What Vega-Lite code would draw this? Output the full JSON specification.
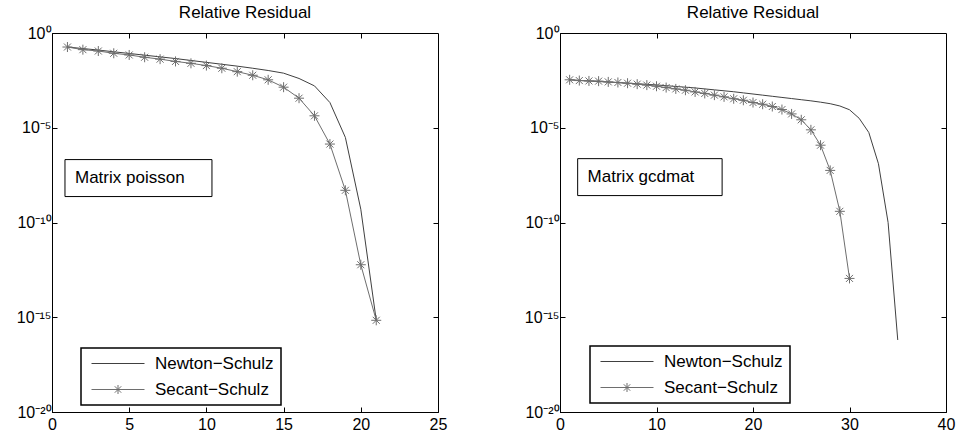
{
  "$schema": "https://vega.github.io/schema/vega-lite/v6.json",
  "background": "white",
  "padding": {"left": 15, "top": 3, "right": 5, "bottom": 0},
  "bounds": "flush",
  "spacing": 122,
  "resolve": {"scale": {"color": "independent"}, "legend": {"color": "independent"}},
  "config": {
    "font": "Liberation Sans",
    "view": {"stroke": "black", "strokeWidth": 1},
    "axis": {"grid": false, "domainColor": "black", "tickColor": "black", "labelColor": "black", "labelFont": "Liberation Sans", "labelFontSize": 16, "tickSize": -5, "title": null, "labelFlush": false},
    "title": {"font": "Liberation Sans", "fontSize": 17, "fontWeight": "normal", "color": "black", "offset": 3},
    "legend": {"labelFont": "Liberation Sans", "labelFontSize": 17, "labelColor": "black", "strokeColor": "black", "fillColor": "white", "padding": 7, "symbolSize": 100, "labelOffset": 50, "rowPadding": 8, "symbolStrokeWidth": 1, "symbolFillColor": "transparent"}
  },
  "datasets": {
    "poisson": [
      {"iter": 1, "residual": 0.182, "method": "Newton−Schulz"},
      {"iter": 2, "residual": 0.151, "method": "Newton−Schulz"},
      {"iter": 3, "residual": 0.126, "method": "Newton−Schulz"},
      {"iter": 4, "residual": 0.102, "method": "Newton−Schulz"},
      {"iter": 5, "residual": 0.0832, "method": "Newton−Schulz"},
      {"iter": 6, "residual": 0.0676, "method": "Newton−Schulz"},
      {"iter": 7, "residual": 0.055, "method": "Newton−Schulz"},
      {"iter": 8, "residual": 0.0447, "method": "Newton−Schulz"},
      {"iter": 9, "residual": 0.0355, "method": "Newton−Schulz"},
      {"iter": 10, "residual": 0.0282, "method": "Newton−Schulz"},
      {"iter": 11, "residual": 0.0224, "method": "Newton−Schulz"},
      {"iter": 12, "residual": 0.0178, "method": "Newton−Schulz"},
      {"iter": 13, "residual": 0.0138, "method": "Newton−Schulz"},
      {"iter": 14, "residual": 0.0105, "method": "Newton−Schulz"},
      {"iter": 15, "residual": 0.00759, "method": "Newton−Schulz"},
      {"iter": 16, "residual": 0.00398, "method": "Newton−Schulz"},
      {"iter": 17, "residual": 0.00162, "method": "Newton−Schulz"},
      {"iter": 18, "residual": 2.14e-4, "method": "Newton−Schulz"},
      {"iter": 19, "residual": 3.09e-6, "method": "Newton−Schulz"},
      {"iter": 20, "residual": 5.0e-10, "method": "Newton−Schulz"},
      {"iter": 21, "residual": 6.9e-16, "method": "Newton−Schulz"},
      {"iter": 1, "residual": 0.182, "method": "Secant−Schulz"},
      {"iter": 2, "residual": 0.132, "method": "Secant−Schulz"},
      {"iter": 3, "residual": 0.112, "method": "Secant−Schulz"},
      {"iter": 4, "residual": 0.0851, "method": "Secant−Schulz"},
      {"iter": 5, "residual": 0.0692, "method": "Secant−Schulz"},
      {"iter": 6, "residual": 0.0525, "method": "Secant−Schulz"},
      {"iter": 7, "residual": 0.0417, "method": "Secant−Schulz"},
      {"iter": 8, "residual": 0.0316, "method": "Secant−Schulz"},
      {"iter": 9, "residual": 0.0251, "method": "Secant−Schulz"},
      {"iter": 10, "residual": 0.0191, "method": "Secant−Schulz"},
      {"iter": 11, "residual": 0.0138, "method": "Secant−Schulz"},
      {"iter": 12, "residual": 0.00912, "method": "Secant−Schulz"},
      {"iter": 13, "residual": 0.00589, "method": "Secant−Schulz"},
      {"iter": 14, "residual": 0.00339, "method": "Secant−Schulz"},
      {"iter": 15, "residual": 0.00138, "method": "Secant−Schulz"},
      {"iter": 16, "residual": 3.63e-4, "method": "Secant−Schulz"},
      {"iter": 17, "residual": 4.27e-5, "method": "Secant−Schulz"},
      {"iter": 18, "residual": 1.38e-6, "method": "Secant−Schulz"},
      {"iter": 19, "residual": 5.0e-9, "method": "Secant−Schulz"},
      {"iter": 20, "residual": 5.9e-13, "method": "Secant−Schulz"},
      {"iter": 21, "residual": 6.9e-16, "method": "Secant−Schulz"}
    ],
    "gcdmat": [
      {"iter": 1, "residual": 0.00339, "method": "Newton−Schulz"},
      {"iter": 2, "residual": 0.00316, "method": "Newton−Schulz"},
      {"iter": 3, "residual": 0.00295, "method": "Newton−Schulz"},
      {"iter": 4, "residual": 0.00275, "method": "Newton−Schulz"},
      {"iter": 5, "residual": 0.00257, "method": "Newton−Schulz"},
      {"iter": 6, "residual": 0.0024, "method": "Newton−Schulz"},
      {"iter": 7, "residual": 0.00224, "method": "Newton−Schulz"},
      {"iter": 8, "residual": 0.00209, "method": "Newton−Schulz"},
      {"iter": 9, "residual": 0.00195, "method": "Newton−Schulz"},
      {"iter": 10, "residual": 0.00182, "method": "Newton−Schulz"},
      {"iter": 11, "residual": 0.00166, "method": "Newton−Schulz"},
      {"iter": 12, "residual": 0.00151, "method": "Newton−Schulz"},
      {"iter": 13, "residual": 0.00138, "method": "Newton−Schulz"},
      {"iter": 14, "residual": 0.00126, "method": "Newton−Schulz"},
      {"iter": 15, "residual": 0.00112, "method": "Newton−Schulz"},
      {"iter": 16, "residual": 0.001, "method": "Newton−Schulz"},
      {"iter": 17, "residual": 8.91e-4, "method": "Newton−Schulz"},
      {"iter": 18, "residual": 7.94e-4, "method": "Newton−Schulz"},
      {"iter": 19, "residual": 6.92e-4, "method": "Newton−Schulz"},
      {"iter": 20, "residual": 6.03e-4, "method": "Newton−Schulz"},
      {"iter": 21, "residual": 5.25e-4, "method": "Newton−Schulz"},
      {"iter": 22, "residual": 4.57e-4, "method": "Newton−Schulz"},
      {"iter": 23, "residual": 3.98e-4, "method": "Newton−Schulz"},
      {"iter": 24, "residual": 3.47e-4, "method": "Newton−Schulz"},
      {"iter": 25, "residual": 3.02e-4, "method": "Newton−Schulz"},
      {"iter": 26, "residual": 2.63e-4, "method": "Newton−Schulz"},
      {"iter": 27, "residual": 2.24e-4, "method": "Newton−Schulz"},
      {"iter": 28, "residual": 1.86e-4, "method": "Newton−Schulz"},
      {"iter": 29, "residual": 1.41e-4, "method": "Newton−Schulz"},
      {"iter": 30, "residual": 8.91e-5, "method": "Newton−Schulz"},
      {"iter": 31, "residual": 3.16e-5, "method": "Newton−Schulz"},
      {"iter": 32, "residual": 5.62e-6, "method": "Newton−Schulz"},
      {"iter": 33, "residual": 1.26e-7, "method": "Newton−Schulz"},
      {"iter": 34, "residual": 1.0e-10, "method": "Newton−Schulz"},
      {"iter": 35, "residual": 6.31e-17, "method": "Newton−Schulz"},
      {"iter": 1, "residual": 0.00339, "method": "Secant−Schulz"},
      {"iter": 2, "residual": 0.00309, "method": "Secant−Schulz"},
      {"iter": 3, "residual": 0.00295, "method": "Secant−Schulz"},
      {"iter": 4, "residual": 0.00288, "method": "Secant−Schulz"},
      {"iter": 5, "residual": 0.00263, "method": "Secant−Schulz"},
      {"iter": 6, "residual": 0.00245, "method": "Secant−Schulz"},
      {"iter": 7, "residual": 0.00224, "method": "Secant−Schulz"},
      {"iter": 8, "residual": 0.002, "method": "Secant−Schulz"},
      {"iter": 9, "residual": 0.00178, "method": "Secant−Schulz"},
      {"iter": 10, "residual": 0.00155, "method": "Secant−Schulz"},
      {"iter": 11, "residual": 0.00132, "method": "Secant−Schulz"},
      {"iter": 12, "residual": 0.00112, "method": "Secant−Schulz"},
      {"iter": 13, "residual": 9.55e-4, "method": "Secant−Schulz"},
      {"iter": 14, "residual": 7.76e-4, "method": "Secant−Schulz"},
      {"iter": 15, "residual": 6.46e-4, "method": "Secant−Schulz"},
      {"iter": 16, "residual": 5.25e-4, "method": "Secant−Schulz"},
      {"iter": 17, "residual": 4.27e-4, "method": "Secant−Schulz"},
      {"iter": 18, "residual": 3.39e-4, "method": "Secant−Schulz"},
      {"iter": 19, "residual": 2.82e-4, "method": "Secant−Schulz"},
      {"iter": 20, "residual": 2.14e-4, "method": "Secant−Schulz"},
      {"iter": 21, "residual": 1.74e-4, "method": "Secant−Schulz"},
      {"iter": 22, "residual": 1.32e-4, "method": "Secant−Schulz"},
      {"iter": 23, "residual": 9.12e-5, "method": "Secant−Schulz"},
      {"iter": 24, "residual": 5.37e-5, "method": "Secant−Schulz"},
      {"iter": 25, "residual": 2.63e-5, "method": "Secant−Schulz"},
      {"iter": 26, "residual": 7.76e-6, "method": "Secant−Schulz"},
      {"iter": 27, "residual": 1.2e-6, "method": "Secant−Schulz"},
      {"iter": 28, "residual": 5.62e-8, "method": "Secant−Schulz"},
      {"iter": 29, "residual": 3.89e-10, "method": "Secant−Schulz"},
      {"iter": 30, "residual": 1.12e-13, "method": "Secant−Schulz"}
    ]
  },
  "hconcat": [
    {
      "width": 386,
      "height": 379,
      "title": "Relative Residual",
      "data": {"name": "poisson"},
      "layer": [
        {
          "mark": {"type": "line", "strokeWidth": 1},
          "encoding": {
            "x": {"field": "iter", "type": "quantitative", "scale": {"domain": [0, 25], "nice": false}, "axis": {"orient": "bottom", "values": [0, 5, 10, 15, 20, 25], "labelPadding": 9}},
            "y": {"field": "residual", "type": "quantitative", "scale": {"type": "log", "domain": [1e-20, 1], "nice": false}, "axis": {"orient": "left", "values": [1, 1e-5, 1e-10, 1e-15, 1e-20], "labelPadding": 6, "labelExpr": "datum.value > 0.1 ? '10⁰' : datum.value > 1e-6 ? '10⁻⁵' : datum.value > 1e-11 ? '10⁻¹⁰' : datum.value > 1e-16 ? '10⁻¹⁵' : '10⁻²⁰'"}},
            "color": {"field": "method", "type": "nominal", "scale": {"domain": ["Newton−Schulz", "Secant−Schulz"], "range": ["#404040", "#6e6e6e"]},
              "legend": {"orient": "none", "legendX": 29, "legendY": 315, "title": null,
                "encode": {"symbols": {"update": {"shape": {"signal": "datum.value === 'Newton−Schulz' ? 'M-1,0H9.6' : 'M-1,0H9.6M3.4,0H5.2M4.3,-0.9V0.9M3.66,-0.64L4.94,0.64M3.66,0.64L4.94,-0.64'"}}}, "legend": {"update": {"strokeWidth": {"value": 1.5}}}}}}
          }
        },
        {
          "transform": [{"filter": "datum.method === 'Secant−Schulz'"}],
          "mark": {"type": "point", "shape": "M-1,0H1M0,-1V1M-0.7,-0.7L0.7,0.7M-0.7,0.7L0.7,-0.7", "filled": false, "size": 100, "strokeWidth": 1, "color": "#6e6e6e", "opacity": 1},
          "encoding": {
            "x": {"field": "iter", "type": "quantitative", "axis": {"orient": "top", "labels": false, "domain": false, "values": [5, 10, 15, 20]}},
            "y": {"field": "residual", "type": "quantitative", "axis": {"orient": "right", "labels": false, "domain": false, "values": [1e-5, 1e-10, 1e-15]}}
          }
        },
        {
          "data": {"values": [{}]},
          "mark": {"type": "rect", "fill": "white", "stroke": "black", "strokeWidth": 1},
          "encoding": {
            "x": {"datum": 0.84, "type": "quantitative", "axis": null},
            "x2": {"datum": 10.36},
            "y": {"datum": 2.09e-7, "type": "quantitative", "axis": null},
            "y2": {"datum": 2.34e-9}
          }
        },
        {
          "data": {"values": [{}]},
          "mark": {"type": "text", "align": "left", "baseline": "middle", "fontSize": 17, "font": "Liberation Sans", "color": "black"},
          "encoding": {
            "x": {"datum": 1.49, "type": "quantitative", "axis": null},
            "y": {"datum": 2.34e-8, "type": "quantitative", "axis": null},
            "text": {"value": "Matrix poisson"}
          }
        }
      ],
      "resolve": {"axis": {"x": "independent", "y": "independent"}}
    },
    {
      "width": 386,
      "height": 379,
      "title": "Relative Residual",
      "data": {"name": "gcdmat"},
      "layer": [
        {
          "mark": {"type": "line", "strokeWidth": 1},
          "encoding": {
            "x": {"field": "iter", "type": "quantitative", "scale": {"domain": [0, 40], "nice": false}, "axis": {"orient": "bottom", "values": [0, 10, 20, 30, 40], "labelPadding": 9}},
            "y": {"field": "residual", "type": "quantitative", "scale": {"type": "log", "domain": [1e-20, 1], "nice": false}, "axis": {"orient": "left", "values": [1, 1e-5, 1e-10, 1e-15, 1e-20], "labelPadding": 6, "labelExpr": "datum.value > 0.1 ? '10⁰' : datum.value > 1e-6 ? '10⁻⁵' : datum.value > 1e-11 ? '10⁻¹⁰' : datum.value > 1e-16 ? '10⁻¹⁵' : '10⁻²⁰'"}},
            "color": {"field": "method", "type": "nominal", "scale": {"domain": ["Newton−Schulz", "Secant−Schulz"], "range": ["#404040", "#6e6e6e"]},
              "legend": {"orient": "none", "legendX": 30, "legendY": 313, "title": null,
                "encode": {"symbols": {"update": {"shape": {"signal": "datum.value === 'Newton−Schulz' ? 'M-1,0H9.6' : 'M-1,0H9.6M3.4,0H5.2M4.3,-0.9V0.9M3.66,-0.64L4.94,0.64M3.66,0.64L4.94,-0.64'"}}}, "legend": {"update": {"strokeWidth": {"value": 1.5}}}}}}
          }
        },
        {
          "transform": [{"filter": "datum.method === 'Secant−Schulz'"}],
          "mark": {"type": "point", "shape": "M-1,0H1M0,-1V1M-0.7,-0.7L0.7,0.7M-0.7,0.7L0.7,-0.7", "filled": false, "size": 100, "strokeWidth": 1, "color": "#6e6e6e", "opacity": 1},
          "encoding": {
            "x": {"field": "iter", "type": "quantitative", "axis": {"orient": "top", "labels": false, "domain": false, "values": [10, 20, 30]}},
            "y": {"field": "residual", "type": "quantitative", "axis": {"orient": "right", "labels": false, "domain": false, "values": [1e-5, 1e-10, 1e-15]}}
          }
        },
        {
          "data": {"values": [{}]},
          "mark": {"type": "rect", "fill": "white", "stroke": "black", "strokeWidth": 1},
          "encoding": {
            "x": {"datum": 1.83, "type": "quantitative", "axis": null},
            "x2": {"datum": 16.8},
            "y": {"datum": 2.34e-7, "type": "quantitative", "axis": null},
            "y2": {"datum": 2.63e-9}
          }
        },
        {
          "data": {"values": [{}]},
          "mark": {"type": "text", "align": "left", "baseline": "middle", "fontSize": 17, "font": "Liberation Sans", "color": "black"},
          "encoding": {
            "x": {"datum": 2.86, "type": "quantitative", "axis": null},
            "y": {"datum": 2.5e-8, "type": "quantitative", "axis": null},
            "text": {"value": "Matrix gcdmat"}
          }
        }
      ],
      "resolve": {"axis": {"x": "independent", "y": "independent"}}
    }
  ]
}
